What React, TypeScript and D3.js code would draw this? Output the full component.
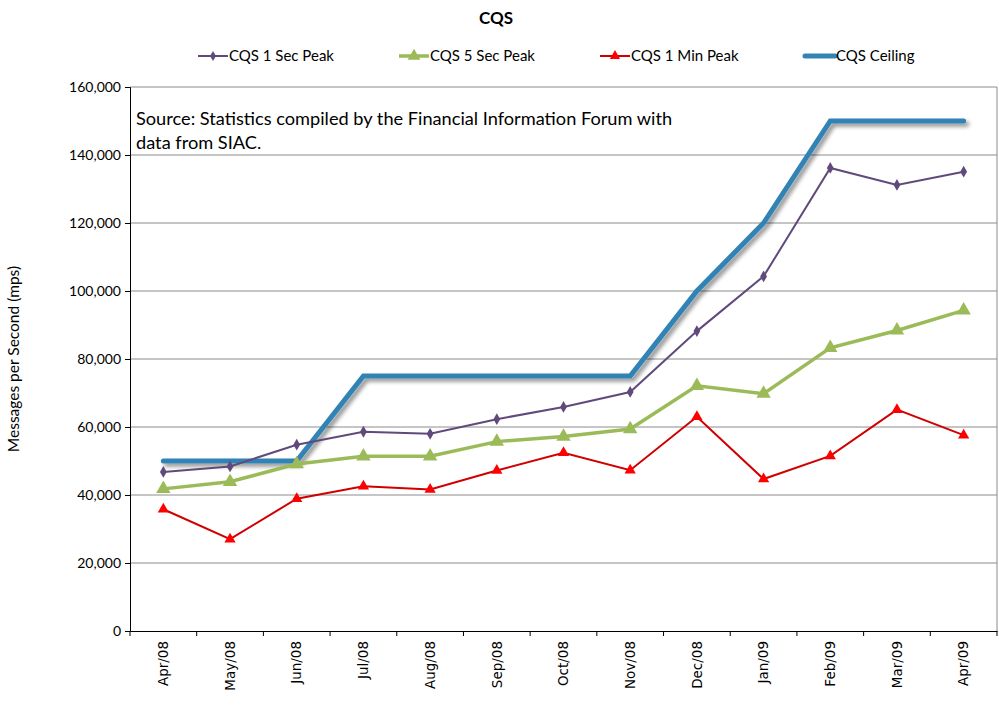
import React, { useRef, useEffect } from "react";
import * as d3 from "d3";

const months = ["Apr/08", "May/08", "Jun/08", "Jul/08", "Aug/08", "Sep/08", "Oct/08", "Nov/08", "Dec/08", "Jan/09", "Feb/09", "Mar/09", "Apr/09"];
const sec1Peak = [46800, 48400, 54800, 58600, 58000, 62300, 65900, 70300, 88200, 104300, 136200, 131200, 135100];
const sec5Peak = [41800, 43900, 49100, 51400, 51400, 55700, 57200, 59400, 72100, 69800, 83300, 88400, 94300];
const min1Peak = [35800, 27000, 38900, 42600, 41600, 47200, 52400, 47300, 63000, 44700, 51500, 65100, 57600];
const ceiling = [50000, 50000, 50000, 75000, 75000, 75000, 75000, 75000, 100000, 120000, 150000, 150000, 150000];
const yTicks = [0, 20000, 40000, 60000, 80000, 100000, 120000, 140000, 160000];

const App = () => {
  const svgRef = useRef<SVGSVGElement>(null);

  useEffect(() => {
    const w = 999;
    const h = 706;
    const margin = { top: 87, right: 2, bottom: 75, left: 130 };
    const svg = d3.select(svgRef.current);
    svg.selectAll("*").remove();

    const font = "Lato, 'Open Sans', sans-serif";

    const x = d3.scaleBand().domain(months).range([margin.left, w - margin.right]).padding(0);
    const y = d3.scaleLinear().domain([0, 160000]).range([h - margin.bottom, margin.top]);
    const cx = (i: number) => (x(months[i]) as number) + x.bandwidth() / 2;

    const defs = svg.append("defs");
    const f = defs.append("filter").attr("id", "shadow").attr("x", "-10%").attr("y", "-10%").attr("width", "130%").attr("height", "130%");
    f.append("feGaussianBlur").attr("in", "SourceAlpha").attr("stdDeviation", 2);
    f.append("feOffset").attr("dx", 3).attr("dy", 3).attr("result", "blur");
    f.append("feComponentTransfer").append("feFuncA").attr("type", "linear").attr("slope", 0.45);
    const merge = f.append("feMerge");
    merge.append("feMergeNode");
    merge.append("feMergeNode").attr("in", "SourceGraphic");

    // title
    svg.append("text").attr("x", 496).attr("y", 24).attr("text-anchor", "middle")
      .attr("font-family", font).attr("font-weight", "bold").attr("font-size", 17).text("CQS");

    // gridlines
    svg.append("g").selectAll("line").data(yTicks.slice(1)).join("line")
      .attr("x1", margin.left).attr("x2", w - margin.right)
      .attr("y1", d => y(d)).attr("y2", d => y(d))
      .attr("stroke", "#8c8c8c").attr("stroke-width", 1);
    svg.append("line").attr("x1", w - margin.right).attr("x2", w - margin.right)
      .attr("y1", margin.top).attr("y2", h - margin.bottom).attr("stroke", "#8c8c8c");

    // y axis
    const yAxis = svg.append("g").attr("transform", `translate(${margin.left},0)`)
      .call(d3.axisLeft(y).tickValues(yTicks).tickSize(5).tickPadding(4).tickFormat(d3.format(",")));
    yAxis.selectAll("text").attr("font-family", font).attr("font-size", 14).attr("fill", "#000");
    yAxis.select(".domain").attr("stroke", "#000");

    // x axis
    const xAxis = svg.append("g").attr("transform", `translate(0,${h - margin.bottom})`)
      .call(d3.axisBottom(x).tickSize(0).tickPadding(0));
    xAxis.select(".domain").attr("stroke", "#000");
    xAxis.selectAll("text")
      .attr("font-family", "'DejaVu Sans', Verdana, sans-serif").attr("font-size", 13.5).attr("fill", "#000")
      .attr("text-anchor", "end").attr("dy", "0.35em")
      .attr("transform", "translate(0,10) rotate(-90)");
    xAxis.append("g").selectAll("line").data(d3.range(months.length + 1)).join("line")
      .attr("x1", i => margin.left + i * x.bandwidth()).attr("x2", i => margin.left + i * x.bandwidth())
      .attr("y1", 0).attr("y2", 5).attr("stroke", "#000");

    // y label
    svg.append("text").attr("transform", `translate(19,${(margin.top + h - margin.bottom) / 2}) rotate(-90)`)
      .attr("text-anchor", "middle").attr("font-family", font).attr("font-size", 15.5).text("Messages per Second (mps)");

    // source note
    const note = svg.append("text").attr("font-family", font).attr("font-size", 18.2);
    note.append("tspan").attr("x", 136).attr("y", 125).text("Source: Statistics compiled by the Financial Information Forum with");
    note.append("tspan").attr("x", 136).attr("y", 149).text("data from SIAC.");

    const line = (vals: number[]) => d3.line<number>().x((_, i) => cx(i)).y(d => y(d))(vals);

    // ceiling
    svg.append("path").attr("d", line(ceiling)).attr("fill", "none").attr("stroke", "#3383b5")
      .attr("stroke-width", 5).attr("stroke-linejoin", "miter").attr("stroke-linecap", "round").attr("filter", "url(#shadow)");

    // 1 sec
    svg.append("path").attr("d", line(sec1Peak)).attr("fill", "none").attr("stroke", "#604a7b").attr("stroke-width", 2);
    svg.append("g").selectAll("path").data(sec1Peak).join("path")
      .attr("d", d3.symbol(d3.symbolDiamond, 40)()).attr("fill", "#604a7b")
      .attr("transform", (d, i) => `translate(${cx(i)},${y(d)})`);

    // 5 sec
    svg.append("path").attr("d", line(sec5Peak)).attr("fill", "none").attr("stroke", "#9bbb59").attr("stroke-width", 3.5);
    svg.append("g").selectAll("path").data(sec5Peak).join("path")
      .attr("d", d3.symbol(d3.symbolTriangle, 90)()).attr("fill", "#9bbb59")
      .attr("transform", (d, i) => `translate(${cx(i)},${y(d)})`);

    // 1 min
    svg.append("path").attr("d", line(min1Peak)).attr("fill", "none").attr("stroke", "#d00000").attr("stroke-width", 2);
    svg.append("g").selectAll("path").data(min1Peak).join("path")
      .attr("d", d3.symbol(d3.symbolTriangle, 55)()).attr("fill", "#ff0000")
      .attr("transform", (d, i) => `translate(${cx(i)},${y(d)})`);

    // legend
    const legend = [
      { name: "CQS 1 Sec Peak", color: "#604a7b", x: 198, sw: 2, sym: d3.symbolDiamond, size: 30 },
      { name: "CQS 5 Sec Peak", color: "#9bbb59", x: 399, sw: 3.5, sym: d3.symbolTriangle, size: 70 },
      { name: "CQS 1 Min Peak", color: "#d00000", x: 600, sw: 2, sym: d3.symbolTriangle, size: 45 },
      { name: "CQS Ceiling", color: "#3383b5", x: 805, sw: 5, sym: null, size: 0 },
    ];
    const lg = svg.append("g").selectAll("g").data(legend).join("g")
      .attr("transform", d => `translate(${d.x},56)`);
    lg.append("line").attr("x1", 0).attr("x2", 30).attr("stroke", d => d.color).attr("stroke-width", d => d.sw)
      .attr("stroke-linecap", d => (d.sym ? "butt" : "round"));
    lg.filter(d => d.sym !== null).append("path")
      .attr("d", d => d3.symbol(d.sym as d3.SymbolType, d.size)())
      .attr("fill", d => (d.name === "CQS 1 Min Peak" ? "#ff0000" : d.color))
      .attr("transform", "translate(15,0)");
    lg.append("text").attr("x", 31).attr("dy", "0.35em").attr("font-family", font).attr("font-size", 15).text(d => d.name);
  }, []);

  return (
    <svg ref={svgRef} width={999} height={706} style={{ position: "absolute", left: 0, top: 0, background: "#fff" }} />
  );
};

export default App;
